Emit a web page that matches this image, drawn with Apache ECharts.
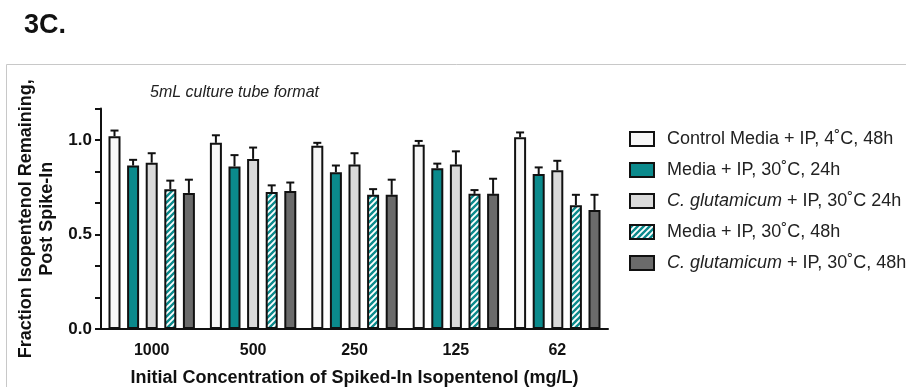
<!DOCTYPE html>
<html>
<head>
<meta charset="utf-8">
<script src="https://cdn.jsdelivr.net/npm/echarts@6/dist/echarts.min.js"></script>
<style>
html,body{margin:0;padding:0;background:#fff;}
#chart{width:906px;height:387px;}
</style>
</head>
<body>
<div id="chart"></div>
<script>
// ---- data ----
const categories = ['1000', '500', '250', '125', '62'];
const seriesNames = [
  'Control Media + IP, 4˚C, 48h',
  'Media + IP, 30˚C, 24h',
  'C. glutamicum + IP, 30˚C 24h',
  'Media + IP, 30˚C, 48h',
  'C. glutamicum + IP, 30˚C, 48h'
];
const controlMedia4C48h = [1.02, 0.985, 0.97, 0.975, 1.015];
const media30C24h       = [0.865, 0.86, 0.83, 0.85, 0.82];
const cglut30C24h       = [0.88, 0.90, 0.87, 0.87, 0.84];
const media30C48h       = [0.74, 0.725, 0.71, 0.715, 0.655];
const cglut30C48h       = [0.72, 0.73, 0.71, 0.715, 0.63];
const errControl4C48h   = [0.03, 0.04, 0.015, 0.02, 0.025];
const errMedia30C24h    = [0.03, 0.06, 0.035, 0.025, 0.035];
const errCglut30C24h    = [0.05, 0.06, 0.06, 0.07, 0.05];
const errMedia30C48h    = [0.045, 0.035, 0.03, 0.02, 0.055];
const errCglut30C48h    = [0.07, 0.045, 0.08, 0.08, 0.08];
const yTickLabels = ['0.0', '0.5', '1.0'];

const values = [controlMedia4C48h, media30C24h, cglut30C24h, media30C48h, cglut30C48h];
const errors = [errControl4C48h, errMedia30C24h, errCglut30C24h, errMedia30C48h, errCglut30C48h];

// ---- hatch pattern ----
function makeHatch() {
  const c = document.createElement('canvas');
  const s = 6;
  c.width = s; c.height = s;
  const g = c.getContext('2d');
  g.fillStyle = '#0b8a8c';
  g.fillRect(0, 0, s, s);
  g.strokeStyle = '#ffffff';
  g.lineWidth = 1.9;
  g.beginPath();
  g.moveTo(-1, s + 1); g.lineTo(s + 1, -1);
  g.moveTo(-1, 1); g.lineTo(1, -1);
  g.moveTo(s - 1, s + 1); g.lineTo(s + 1, s - 1);
  g.stroke();
  return c;
}
const fillOrder = ['#f7f7f7', '#0b8a8c', '#dadada', { image: makeHatch(), repeat: 'repeat' }, '#6b6b6b'];

const BAR_W = 12, BAR_GAP = 0.55;
const FONT = '"Liberation Sans", Arial, Helvetica, sans-serif';

const chart = echarts.init(document.getElementById('chart'), null, { renderer: 'canvas' });

const barSeries = seriesNames.map((n, i) => ({
  name: n,
  type: 'bar',
  data: values[i],
  barWidth: BAR_W,
  barGap: (BAR_GAP * 100) + '%',
  itemStyle: { color: fillOrder[i], borderColor: '#111', borderWidth: 2 },
  emphasis: { disabled: true },
  z: 3
}));

const errData = [];
for (let s = 0; s < values.length; s++) {
  for (let c = 0; c < categories.length; c++) {
    errData.push([c, values[s][c], values[s][c] + errors[s][c], s]);
  }
}

const errSeries = {
  type: 'custom',
  data: errData,
  z: 2,
  silent: true,
  encode: { x: 0, y: [1, 2] },
  renderItem: function (params, api) {
    const c = api.value(0), v = api.value(1), top = api.value(2), s = api.value(3);
    const pitch = BAR_W * (1 + BAR_GAP);
    const p0 = api.coord([c, v]);
    const p1 = api.coord([c, top]);
    const x = p0[0] + (s - 2) * pitch;
    const cap = 4;
    return {
      type: 'group',
      children: [
        { type: 'line', shape: { x1: x, y1: p0[1], x2: x, y2: p1[1] }, style: { stroke: '#111', lineWidth: 2 } },
        { type: 'line', shape: { x1: x - cap, y1: p1[1], x2: x + cap, y2: p1[1] }, style: { stroke: '#111', lineWidth: 2 } }
      ]
    };
  }
};

const option = {
  animation: false,
  backgroundColor: '#fff',
  graphic: [
    { type: 'rect', shape: { x: 6.5, y: 64.5, width: 960, height: 400 }, style: { fill: 'none', stroke: '#c8c8c8', lineWidth: 1 }, silent: true, z: -1 },
    { type: 'text', left: 24, top: 12, style: { text: '3C.', font: 'bold 27px ' + FONT, fill: '#111' } },
    { type: 'text', left: 150, top: 85, style: { text: '5mL culture tube format', font: 'italic 16px ' + FONT, fill: '#222' } }
  ],
  grid: { left: 101, top: 108.5, width: 507, bottom: 58, containLabel: false, outerBoundsMode: 'none' },
  legend: {
    orient: 'vertical',
    left: 629,
    top: 130,
    padding: 0,
    icon: 'rect',
    itemWidth: 24,
    itemHeight: 14,
    itemGap: 13,
    selectedMode: false,
    data: seriesNames,
    itemStyle: { borderColor: '#111', borderWidth: 2 },
    textStyle: {
      fontFamily: FONT, fontSize: 18, color: '#222', padding: [0, 0, 0, 8],
      rich: { i: { fontFamily: FONT, fontSize: 18, fontStyle: 'italic', color: '#222' }, n: { fontFamily: FONT, fontSize: 18, color: '#222' } }
    },
    formatter: function (name) {
      if (name.indexOf('C. glutamicum') === 0) {
        return '{i|C. glutamicum}{n|' + name.slice('C. glutamicum'.length) + '}';
      }
      return name;
    }
  },
  xAxis: {
    type: 'category',
    data: categories,
    axisLine: { lineStyle: { color: '#111', width: 2 } },
    axisTick: { alignWithLabel: true, length: 7, lineStyle: { color: '#111', width: 2 } },
    axisLabel: { color: '#111', fontFamily: FONT, fontWeight: 'bold', fontSize: 16, margin: 14 },
    name: 'Initial Concentration of Spiked-In Isopentenol (mg/L)',
    nameLocation: 'middle',
    nameGap: 40,
    nameTextStyle: { color: '#111', fontFamily: FONT, fontWeight: 'bold', fontSize: 18 }
  },
  yAxis: {
    type: 'value',
    min: 0,
    max: 7 / 6,
    interval: 1 / 6,
    splitLine: { show: false },
    axisLine: { show: true, lineStyle: { color: '#111', width: 2 } },
    axisTick: { show: true, length: 6, lineStyle: { color: '#111', width: 2 } },
    axisLabel: {
      color: '#111', fontFamily: FONT, fontWeight: 'bold', fontSize: 17, margin: 9,
      formatter: function (v) {
        const h = v * 2;
        if (Math.abs(h - Math.round(h)) < 1e-6) {
          const idx = Math.round(h);
          return yTickLabels[idx] !== undefined ? yTickLabels[idx] : '';
        }
        return '';
      }
    },
    name: 'Fraction Isopentenol Remaining,\nPost Spike-In',
    nameLocation: 'middle',
    nameGap: 41,
    nameTextStyle: { color: '#111', fontFamily: FONT, fontWeight: 'bold', fontSize: 18, lineHeight: 21 }
  },
  series: barSeries.concat([errSeries])
};
chart.setOption(option);
</script>
</body>
</html>
